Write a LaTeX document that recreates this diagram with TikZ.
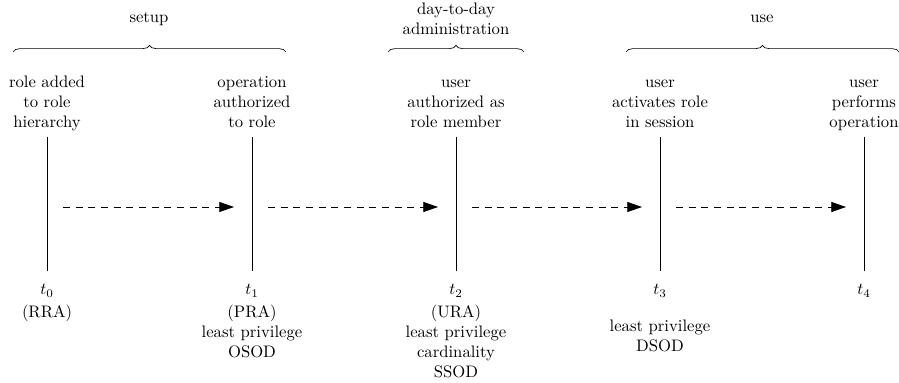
\documentclass[tikz,border=0pt]{standalone}
\usetikzlibrary{decorations.pathreplacing,arrows.meta}

\tikzset{
  lbl/.style={align=center,inner sep=0pt,anchor=north},
  tick/.style={inner sep=0pt,anchor=north},
  eventline/.style={line width=0.4pt},
  flow/.style={dash pattern=on 4.2pt off 3.4pt,-{Triangle[length=8.8pt,width=6pt]}},
  phase/.style={decorate,decoration={brace,amplitude=4pt}}
}

\begin{document}
\begin{tikzpicture}[x=0.6pt,y=-0.6pt]
\useasboundingbox (0,0) rectangle (899,383);

% phase braces and their captions
\coordinate (b1l) at (13,52);  \coordinate (b1r) at (286,52);
\coordinate (b2l) at (388,52); \coordinate (b2r) at (524,52);
\coordinate (b3l) at (626,52); \coordinate (b3r) at (899,52);
\draw[phase] (b1l) -- (b1r);
\draw[phase] (b2l) -- (b2r);
\draw[phase] (b3l) -- (b3r);
\node[lbl] (setup) at (149,8) {\strut setup};
\node[lbl] (admin) at (456,0.5) {\strut day-to-day\\\strut administration};
\node[lbl] (use) at (762,8) {\strut use};

% events
\node[lbl] (e0) at (47,73)  {\strut role added\\\strut to role\\\strut hierarchy};
\node[lbl] (e1) at (252,73) {\strut operation\\\strut authorized\\\strut to role};
\node[lbl] (e2) at (456,73) {\strut user\\\strut authorized as\\\strut role member};
\node[lbl] (e3) at (660,73) {\strut user\\\strut activates role\\\strut in session};
\node[lbl] (e4) at (864,73) {\strut user\\\strut performs\\\strut operation};

% time lines
\foreach \i/\x in {0/47,1/252,2/456,3/660,4/864}{
  \coordinate (u\i) at (\x,137);
  \coordinate (d\i) at (\x,271);
  \draw[eventline] (u\i) -- (d\i);
  \node[tick] (t\i) at (\x,284) {$t_{\i}$};
}

% transitions between events
\coordinate (s0) at (63,207);  \coordinate (f0) at (234,207);
\coordinate (s1) at (268,207); \coordinate (f1) at (438,207);
\coordinate (s2) at (472,207); \coordinate (f2) at (642,207);
\coordinate (s3) at (676,207); \coordinate (f3) at (846,207);
\foreach \i in {0,1,2,3}{ \draw[flow] (s\i) -- (f\i); }

% constraints at each event
\node[lbl] (c0) at (47,303)  {\strut (RRA)};
\node[lbl] (c1) at (252,303) {\strut (PRA)\\\strut least privilege\\\strut OSOD};
\node[lbl] (c2) at (456,303) {\strut (URA)\\\strut least privilege\\\strut cardinality\\\strut SSOD};
\node[lbl] (c3) at (660,317.5) {\strut least privilege\\\strut DSOD};
\end{tikzpicture}
\end{document}
